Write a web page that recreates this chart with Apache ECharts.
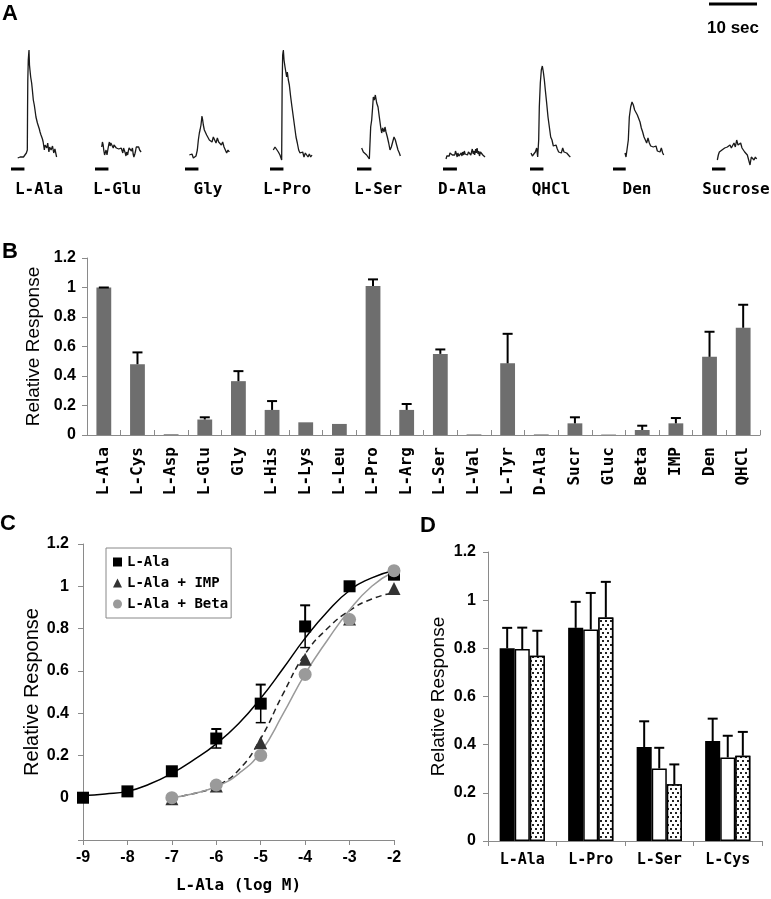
<!DOCTYPE html>
<html><head><meta charset="utf-8">
<script src="https://cdn.jsdelivr.net/npm/echarts@6/dist/echarts.min.js"></script>
<style>html,body{margin:0;padding:0;background:#fff}#c{width:771px;height:899px}</style>
</head><body><div id="c"></div>
<script>
// ---------- Panel A : response traces [time (s), relative amplitude] ----------
const traceLAla = [[1.4,.17],[1.7,.16],[1.9,.18],[2.2,.165],[2.6,.18],[2.9,.19],[3.2,.22],[3.4,.25],[3.45,.65],[3.5,.95],[3.6,1.15],[3.75,1.25],[3.85,1.1],[3.95,1.05],[4.1,.98],[4.15,1.0],[4.3,.92],[4.45,.85],[4.65,.75],[4.85,.70],[5.0,.65],[5.2,.58],[5.35,.57],[5.5,.52],[5.7,.5],[5.9,.46],[6.05,.43],[6.25,.40],[6.4,.38],[6.55,.36],[6.7,.33],[6.95,.25],[7.1,.30],[7.2,.29],[7.45,.27],[7.65,.32],[7.8,.26],[7.9,.23],[8.05,.28],[8.2,.30],[8.35,.25],[8.5,.25],[8.65,.29],[8.75,.27],[8.9,.22],[9.05,.22],[9.15,.26],[9.3,.25],[9.5,.18]];
const traceLGlu = [[1.4,.28],[1.55,.33],[1.7,.30],[1.85,.24],[2.0,.20],[2.15,.22],[2.3,.25],[2.5,.20],[2.7,.26],[2.85,.30],[3.0,.33],[3.15,.29],[3.3,.32],[3.45,.34],[3.6,.31],[3.8,.27],[3.95,.30],[4.1,.28],[4.3,.32],[4.45,.27],[4.6,.25],[4.8,.29],[4.95,.26],[5.1,.28],[5.3,.24],[5.45,.27],[5.6,.25],[5.8,.22],[5.95,.27],[6.1,.25],[6.3,.22],[6.45,.19],[6.6,.23],[6.8,.20],[6.95,.24],[7.1,.27],[7.3,.29],[7.45,.25],[7.6,.24],[7.8,.27],[7.95,.21],[8.1,.18],[8.3,.21],[8.45,.24],[8.6,.28],[8.8,.30],[8.95,.27],[9.1,.28],[9.3,.25],[9.45,.24],[9.6,.23]];
const traceGly = [[0.9,.20],[1.18,.18],[1.46,.21],[1.74,.17],[2.01,.15],[2.29,.19],[2.57,.25],[2.78,.35],[2.99,.42],[3.13,.45],[3.33,.50],[3.54,.59],[3.68,.55],[3.82,.50],[4.03,.45],[4.24,.43],[4.51,.40],[4.79,.42],[5.07,.35],[5.35,.37],[5.63,.33],[5.9,.38],[6.18,.35],[6.46,.32],[6.74,.37],[7.01,.33],[7.29,.35],[7.57,.30],[7.85,.33],[8.13,.28],[8.4,.27],[8.68,.22],[8.96,.25],[9.24,.23]];
const traceLPro = [[0.69,.25],[1.04,.28],[1.39,.27],[1.74,.23],[2.08,.20],[2.43,.15],[2.5,.15],[2.53,.9],[2.64,1.2],[2.78,1.25],[2.92,1.15],[3.13,1.08],[3.33,1.1],[3.47,.98],[3.61,1.03],[3.82,.95],[4.03,.90],[4.31,.78],[4.58,.68],[4.86,.58],[5.14,.48],[5.42,.38],[5.69,.32],[5.97,.25],[6.25,.22],[6.53,.20],[6.81,.23],[7.08,.18],[7.36,.22],[7.64,.20],[7.92,.18],[8.19,.21],[8.47,.18],[8.75,.20]];
const traceLSer = [[0.97,.27],[1.32,.23],[1.67,.22],[2.01,.20],[2.36,.18],[2.57,.16],[2.85,.48],[3.06,.55],[3.26,.68],[3.40,.78],[3.61,.75],[3.82,.80],[4.10,.72],[4.38,.68],[4.65,.58],[4.93,.48],[5.14,.42],[5.35,.47],[5.63,.43],[5.83,.48],[6.04,.43],[6.32,.38],[6.6,.32],[6.88,.25],[7.15,.28],[7.43,.33],[7.71,.38],[7.99,.35],[8.26,.30],[8.54,.25],[8.82,.22],[9.03,.19]];
const traceDAla = [[0.63,.16],[0.8,.19],[0.95,.17],[1.1,.21],[1.3,.19],[1.45,.22],[1.6,.20],[1.8,.23],[1.95,.20],[2.1,.18],[2.3,.22],[2.45,.20],[2.6,.24],[2.8,.21],[2.95,.18],[3.1,.22],[3.3,.19],[3.45,.17],[3.6,.20],[3.8,.22],[3.95,.19],[4.1,.23],[4.3,.20],[4.45,.24],[4.6,.21],[4.8,.19],[4.95,.22],[5.1,.20],[5.3,.23],[5.45,.21],[5.6,.25],[5.8,.20],[5.95,.23],[6.1,.26],[6.3,.21],[6.45,.24],[6.6,.20],[6.8,.26],[6.95,.22],[7.1,.27],[7.3,.21],[7.45,.24],[7.6,.19],[7.8,.23],[7.95,.21],[8.1,.24],[8.3,.20],[8.45,.22],[8.6,.19],[8.75,.18]];
const traceQHCl = [[0.21,.22],[0.49,.19],[0.69,.21],[0.9,.18],[1.11,.23],[1.39,.27],[1.6,.18],[1.81,.35],[1.94,.68],[2.15,.92],[2.36,1.05],[2.57,1.09],[2.78,1.03],[2.99,.95],[3.19,.85],[3.47,.72],[3.75,.58],[4.03,.48],[4.31,.38],[4.58,.35],[4.86,.29],[5.14,.27],[5.42,.30],[5.69,.26],[5.97,.23],[6.25,.25],[6.53,.22],[6.81,.27],[7.08,.23],[7.36,.25],[7.64,.22],[7.92,.20],[8.19,.19],[8.4,.18]];
const traceDen = [[2.5,.22],[2.71,.18],[2.99,.20],[3.19,.35],[3.40,.58],[3.68,.68],[3.96,.73],[4.24,.70],[4.51,.65],[4.79,.67],[5.07,.60],[5.35,.58],[5.63,.53],[5.9,.47],[6.18,.43],[6.46,.38],[6.74,.35],[7.01,.32],[7.29,.37],[7.57,.32],[7.85,.29],[8.13,.30],[8.4,.28],[8.68,.27],[8.96,.29],[9.24,.24],[9.51,.25],[9.79,.23],[10.07,.27],[10.35,.22],[10.56,.20]];
const traceSucrose = [[1.11,.15],[1.32,.20],[1.53,.23],[1.81,.22],[2.08,.25],[2.36,.23],[2.64,.27],[2.92,.25],[3.19,.28],[3.47,.26],[3.75,.30],[4.03,.27],[4.31,.29],[4.58,.32],[4.86,.28],[5.14,.35],[5.42,.30],[5.69,.28],[5.97,.32],[6.25,.27],[6.53,.29],[6.81,.23],[7.08,.25],[7.36,.20],[7.64,.22],[7.92,.10],[8.19,.18],[8.47,.17],[8.75,.15],[9.03,.18],[9.31,.16]];
const traceNames = ['L-Ala','L-Glu','Gly','L-Pro','L-Ser','D-Ala','QHCl','Den','Sucrose'];
const stimDuration = [2.8,2.8,2.8,2.8,3.0,2.9,2.8,2.65,2.8]; // s
const stimLevel = 0.06;
const scaleBarSec = 10;

// ---------- Panel B ----------
const bCategories = ['L-Ala','L-Cys','L-Asp','L-Glu','Gly','L-His','L-Lys','L-Leu','L-Pro','L-Arg','L-Ser','L-Val','L-Tyr','D-Ala','Sucr','Gluc','Beta','IMP','Den','QHCl'];
const bValues = [1.0,0.48,0.005,0.105,0.365,0.17,0.086,0.075,1.01,0.17,0.55,0.004,0.486,0.004,0.079,0.003,0.034,0.079,0.53,0.727];
const bErrors = [0.0,0.08,null,0.015,0.068,0.06,null,null,0.045,0.04,0.03,null,0.2,null,0.041,null,0.029,0.036,0.17,0.156];

// ---------- Panel C ----------
const cLogConc = [-9,-8,-7,-6,-5,-4,-3,-2];
const cAla = [0.0,0.03,0.125,0.28,0.445,0.81,1.0,1.055];
const cAlaSD = [null,null,null,0.045,0.09,0.1,null,null];
const cLogConc2 = [-7,-6,-5,-4,-3,-2];
const cIMP = [-0.005,0.055,0.26,0.655,0.845,0.99];
const cBeta = [0.0,0.06,0.2,0.583,0.843,1.074];
const curveAla = [[-9,0.01],[-8.5,0.018],[-8,0.03],[-7.5,0.065],[-7,0.115],[-6.5,0.18],[-6,0.255],[-5.5,0.35],[-5,0.47],[-4.5,0.61],[-4,0.755],[-3.5,0.88],[-3,0.98],[-2.5,1.04],[-2,1.075]];
const curveIMP = [[-7,0.0],[-6.5,0.02],[-6,0.055],[-5.5,0.13],[-5,0.28],[-4.5,0.49],[-4,0.68],[-3.5,0.80],[-3,0.885],[-2.5,0.94],[-2,0.97]];
const curveBeta = [[-7,0.0],[-6.5,0.02],[-6,0.053],[-5.5,0.113],[-5,0.216],[-4.5,0.395],[-4,0.586],[-3.5,0.745],[-3,0.888],[-2.5,1.0],[-2,1.07]];

// ---------- Panel D ----------
const dCategories = ['L-Ala','L-Pro','L-Ser','L-Cys'];
const dBlack = [0.80,0.885,0.39,0.415];
const dBlackSD = [0.085,0.108,0.107,0.093];
const dWhite = [0.797,0.878,0.301,0.347];
const dWhiteSD = [0.089,0.152,0.086,0.09];
const dDotted = [0.769,0.928,0.236,0.354];
const dDottedSD = [0.104,0.148,0.082,0.099];

// ---------- layout ----------
const MONO = '"DejaVu Sans Mono", "Liberation Mono", monospace';
const SANS = '"Liberation Sans", Arial, sans-serif';
const traceLeft = [11,95,185,270,357,443,530,613,712];
const traceLabelX = [39,117,208,287,378,462,551,637,736];

const grids = [], xAxes = [], yAxes = [], series = [], graphics = [];
traceNames.forEach((name, i) => {
  grids.push({left: traceLeft[i], top: 45, width: 52.8, height: 130});
  xAxes.push({gridIndex: i, type: 'value', min: 0, max: 11, show: false});
  yAxes.push({gridIndex: i, type: 'value', min: 0, max: 1.3, show: false});
  const data = [traceLAla, traceLGlu, traceGly, traceLPro, traceLSer, traceDAla, traceQHCl, traceDen, traceSucrose][i];
  series.push({type: 'line', xAxisIndex: i, yAxisIndex: i, data: data, symbol: 'none', clip: false,
    lineStyle: {color: '#1a1a1a', width: 1.3}, silent: true});
  series.push({type: 'line', xAxisIndex: i, yAxisIndex: i, data: [[0, stimLevel], [stimDuration[i], stimLevel]], symbol: 'none',
    lineStyle: {color: '#000', width: 3}, silent: true});
  graphics.push({type: 'text', x: traceLabelX[i], y: 190, style: {text: name, textAlign: 'center', textVerticalAlign: 'middle', align: 'center', verticalAlign: 'middle', fontFamily: MONO, fontSize: 16, fontWeight: 'bold', fill: '#000'}});
});
// scale bar grid (index 9)
grids.push({left: 709, top: 0, width: 48, height: 8});
xAxes.push({gridIndex: 9, type: 'value', min: 0, max: 10, show: false});
yAxes.push({gridIndex: 9, type: 'value', min: 0, max: 1, show: false});
series.push({type: 'line', xAxisIndex: 9, yAxisIndex: 9, data: [[0, 0.5], [scaleBarSec, 0.5]], symbol: 'none', clip: false, lineStyle: {color: '#000', width: 3}});

const axisLineGray = {show: true, lineStyle: {color: '#8a8a8a', width: 1}};
const yLab = (m) => ({color: '#000', fontFamily: SANS, fontWeight: 'bold', fontSize: 16, margin: m});
const yName = {color: '#000', fontFamily: SANS, fontSize: 19};

// B (index 10)
grids.push({left: 87, right: 11, top: 258, bottom: 464});
xAxes.push({gridIndex: 10, type: 'category', data: bCategories, axisLine: axisLineGray,
  axisTick: {show: true, inside: true, length: 5, lineStyle: {color: '#8a8a8a'}},
  axisLabel: {rotate: 90, interval: 0, margin: 12, color: '#000', fontFamily: MONO, fontSize: 16, fontWeight: 'bold'}});
yAxes.push({gridIndex: 10, type: 'value', min: 0, max: 1.2, interval: 0.2, axisLine: axisLineGray,
  axisTick: {show: true, length: 5, lineStyle: {color: '#8a8a8a'}}, splitLine: {show: false},
  axisLabel: yLab(11), name: 'Relative Response', nameLocation: 'middle', nameGap: 44, nameTextStyle: yName});
series.push({type: 'bar', xAxisIndex: 10, yAxisIndex: 10, data: bValues, barWidth: '44%', itemStyle: {color: '#6e6e6e'}});

function errRender(nSeries, k, frac, cap, sym) {
  return function (params, api) {
    const x = api.value(0), v = api.value(1), t = api.value(2);
    const band = api.size ? api.size([1, 0])[0] : 0;
    const off = nSeries > 1 ? (k - (nSeries - 1) / 2) * band * frac : 0;
    const p0 = api.coord([x, v]), p1 = api.coord([x, t]);
    const xs = p0[0] + off;
    const children = [
      {type: 'line', shape: {x1: xs, y1: p0[1], x2: xs, y2: p1[1]}, style: {stroke: '#000', lineWidth: 2}},
      {type: 'line', shape: {x1: xs - cap, y1: p1[1], x2: xs + cap, y2: p1[1]}, style: {stroke: '#000', lineWidth: 2}}
    ];
    if (sym) {
      const p2 = api.coord([x, 2 * v - t]);
      children.push({type: 'line', shape: {x1: xs, y1: p0[1], x2: xs, y2: p2[1]}, style: {stroke: '#000', lineWidth: 1.5}});
      children.push({type: 'line', shape: {x1: xs - cap, y1: p2[1], x2: xs + cap, y2: p2[1]}, style: {stroke: '#000', lineWidth: 1.5}});
    }
    return {type: 'group', children};
  };
}
series.push({type: 'custom', xAxisIndex: 10, yAxisIndex: 10, z: 5,
  data: bValues.map((v, i) => bErrors[i] == null ? null : [i, v, v + bErrors[i]]).filter(d => d),
  encode: {x: 0, y: [1, 2]}, renderItem: errRender(1, 0, 0, 5, false)});

// C (index 11)
grids.push({left: 83, right: 377, top: 544, bottom: 59});
xAxes.push({gridIndex: 11, type: 'value', min: -9, max: -2, interval: 1, axisLine: {show: true, onZero: false, lineStyle: {color: '#8a8a8a'}},
  axisTick: {show: true, length: 5, lineStyle: {color: '#8a8a8a'}}, splitLine: {show: false},
  axisLabel: {color: '#000', fontFamily: SANS, fontWeight: 'bold', fontSize: 16, margin: 10},
  name: 'L-Ala (log M)', nameLocation: 'middle', nameGap: 38, nameTextStyle: {color: '#000', fontFamily: MONO, fontSize: 16, fontWeight: 'bold'}});
yAxes.push({gridIndex: 11, type: 'value', min: -0.2, max: 1.2, interval: 0.2, axisLine: {show: true, onZero: false, lineStyle: {color: '#8a8a8a'}},
  axisTick: {show: true, length: 5, lineStyle: {color: '#8a8a8a'}}, splitLine: {show: false},
  axisLabel: Object.assign(yLab(14), {formatter: v => v < -0.05 ? '' : String(Math.round(v * 10) / 10)}),
  name: 'Relative Response', nameLocation: 'middle', nameGap: 40, nameTextStyle: {color: '#000', fontFamily: SANS, fontSize: 20}});
series.push({type: 'line', name: 'fitAla', xAxisIndex: 11, yAxisIndex: 11, data: curveAla, symbol: 'none', smooth: 0.5, lineStyle: {color: '#000', width: 1.5}});
series.push({type: 'line', name: 'fitIMP', xAxisIndex: 11, yAxisIndex: 11, data: curveIMP, symbol: 'none', smooth: 0.5, lineStyle: {color: '#222', width: 1.5, type: [6, 4]}});
series.push({type: 'line', name: 'fitBeta', xAxisIndex: 11, yAxisIndex: 11, data: curveBeta, symbol: 'none', smooth: 0.5, lineStyle: {color: '#9a9a9a', width: 1.5}});
series.push({type: 'custom', xAxisIndex: 11, yAxisIndex: 11, z: 3,
  data: cAla.map((v, i) => cAlaSD[i] == null ? null : [cLogConc[i], v, v + cAlaSD[i]]).filter(d => d),
  encode: {x: 0, y: [1, 2]}, renderItem: errRender(1, 0, 0, 5, true)});
series.push({type: 'scatter', name: 'L-Ala', xAxisIndex: 11, yAxisIndex: 11, data: cLogConc.map((x, i) => [x, cAla[i]]), symbol: 'rect', symbolSize: 12, itemStyle: {color: '#000', opacity: 1}, z: 4});
series.push({type: 'scatter', name: 'L-Ala + IMP', xAxisIndex: 11, yAxisIndex: 11, data: cLogConc2.map((x, i) => [x, cIMP[i]]), symbol: 'triangle', symbolSize: 13, itemStyle: {color: '#333', opacity: 1}, z: 4});
series.push({type: 'scatter', name: 'L-Ala + Beta', xAxisIndex: 11, yAxisIndex: 11, data: cLogConc2.map((x, i) => [x, cBeta[i]]), symbol: 'circle', symbolSize: 13, itemStyle: {color: '#9a9a9a', opacity: 1}, z: 4});

// D (index 12)
grids.push({left: 488, right: 9, top: 552, bottom: 58});
xAxes.push({gridIndex: 12, type: 'category', data: dCategories, axisLine: axisLineGray,
  axisTick: {show: true, length: 5, lineStyle: {color: '#8a8a8a'}},
  axisLabel: {interval: 0, margin: 12, color: '#000', fontFamily: MONO, fontSize: 15, fontWeight: 'bold'}});
yAxes.push({gridIndex: 12, type: 'value', min: 0, max: 1.2, interval: 0.2, axisLine: axisLineGray,
  axisTick: {show: true, length: 5, lineStyle: {color: '#8a8a8a'}}, splitLine: {show: false},
  axisLabel: yLab(12), name: 'Relative Response', nameLocation: 'middle', nameGap: 40, nameTextStyle: yName});
const dSets = [[dBlack, dBlackSD, {color: '#000', borderColor: '#000', borderWidth: 1.5}],
  [dWhite, dWhiteSD, {color: '#fff', borderColor: '#000', borderWidth: 1.5}],
  [dDotted, dDottedSD, {color: '#fff', borderColor: '#000', borderWidth: 1.5,
    decal: {symbol: 'rect', symbolSize: 1, dashArrayX: [[1.2, 2.4], [0, 1.8, 1.2, 0.6]], dashArrayY: [1.2, 1.8], color: '#222', backgroundColor: '#fff', rotation: 0}}]];
dSets.forEach((s, k) => {
  series.push({type: 'bar', xAxisIndex: 12, yAxisIndex: 12, data: s[0], barWidth: '22%', barGap: '0%', itemStyle: s[2]});
});
dSets.forEach((s, k) => {
  series.push({type: 'custom', xAxisIndex: 12, yAxisIndex: 12, z: 5,
    data: s[0].map((v, i) => [i, v, v + s[1][i]]), encode: {x: 0, y: [1, 2]}, renderItem: errRender(3, k, 0.22, 5, false)});
});

// panel letters and scale text
[['A', 2, 3], ['B', 2, 241], ['C', 0, 513], ['D', 420, 515]].forEach(([t, x, y]) => {
  graphics.push({type: 'text', x: x, y: y, style: {text: t, fontFamily: SANS, fontWeight: 'bold', fontSize: 22, fill: '#000'}});
});
graphics.push({type: 'text', x: 733, y: 28, style: {text: '10 sec', textAlign: 'center', textVerticalAlign: 'middle', align: 'center', verticalAlign: 'middle', fontFamily: SANS, fontWeight: 'bold', fontSize: 17, fill: '#000'}});

const chart = echarts.init(document.getElementById('c'), null, {renderer: 'canvas'});
chart.setOption({
  animation: false,
  backgroundColor: '#fff',
  grid: grids, xAxis: xAxes, yAxis: yAxes, series: series,
  legend: {data: [{name: 'L-Ala', icon: 'rect'}, {name: 'L-Ala + IMP', icon: 'triangle'}, {name: 'L-Ala + Beta', icon: 'circle'}],
    orient: 'vertical', left: 106, top: 548, itemWidth: 9, itemHeight: 9, itemGap: 7, padding: [7, 3, 7, 7],
    borderColor: '#888', borderWidth: 1, selectedMode: false,
    textStyle: {color: '#000', fontFamily: MONO, fontSize: 14, fontWeight: 'bold'}},
  graphic: graphics
});
</script></body></html>
